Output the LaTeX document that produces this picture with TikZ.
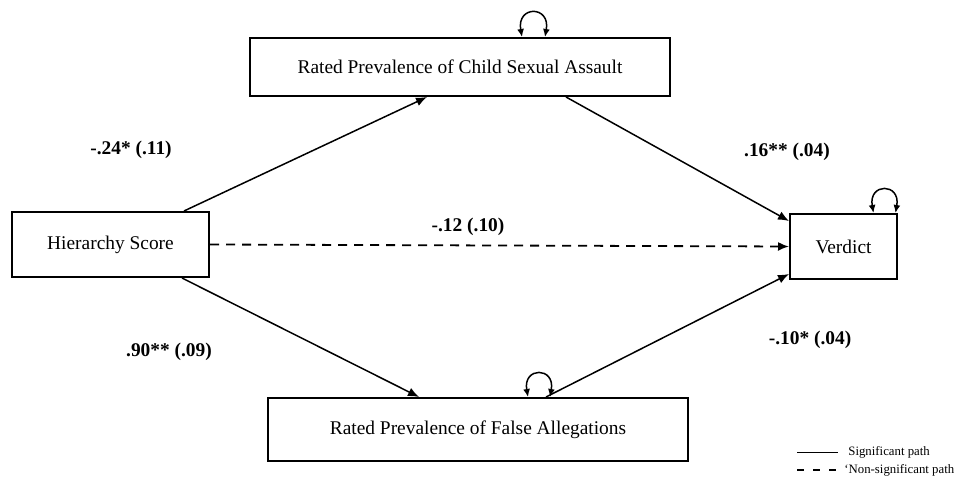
\documentclass[tikz,border=0pt]{standalone}
\usepackage{fontspec}
\setmainfont{Liberation Serif}
\usepackage{tikz}
\usetikzlibrary{positioning, arrows.meta}

\begin{document}
\begin{tikzpicture}[
    x=0.5pt, y=-0.5pt,
    box/.style={rectangle, draw, line width=1pt, minimum width=210pt, minimum height=29pt, inner sep=0pt, font=\fontsize{9.7}{11.6}\selectfont},
    path/.style={line width=0.75pt, -{Latex[length=5.5pt, width=4.5pt]}},
    nspath/.style={path, line width=0.9pt, dash pattern=on 4.5pt off 3.5pt},
    loop/.style={line width=0.75pt, {Latex[length=4pt, width=3.5pt]}-{Latex[length=4pt, width=3.5pt]}},
    coef/.style={font=\fontsize{9.7}{11.6}\selectfont\bfseries},
    legend/.style={font=\fontsize{6.4}{7.6}\selectfont, anchor=west, inner sep=0pt},
    >=LaTeX
    ]
\useasboundingbox (0,0) rectangle (958,481);
\node[box, minimum width=98.5pt, minimum height=32.5pt] (hier) at (110.5,244.5) {Hierarchy Score};
\node[box, minimum width=53.5pt, minimum height=32.5pt, right=289.5pt of hier, yshift=-1pt] (verdict) {Verdict};
\node[box] (csa) at (460,67) {Rated Prevalence of Child Sexual Assault};
\node[box, minimum height=31.5pt] (false) at (478,429.5) {Rated Prevalence of False Allegations};

% paths
\draw[path] ([xshift=-13pt]hier.north east) to ([xshift=89pt]csa.south west);
\draw[path] ([xshift=-52.5pt]csa.south east) to ([yshift=-4pt]verdict.north west);
\draw[path] ([xshift=-14pt]hier.south east) to ([xshift=76pt]false.north west);
\draw[path] ([xshift=-71.5pt]false.north east) to ([yshift=3pt]verdict.south west);
\draw[nspath] (hier.east) to (verdict.west);

% coefficients
\node[coef] (c1) at (131,150) {-.24* (.11)};
\node[coef] (c2) at (787,152) {.16** (.04)};
\node[coef] (c3) at (468,227) {-.12 (.10)};
\node[coef] (c4) at (169,352) {.90** (.09)};
\node[coef] (c5) at (810,340) {-.10* (.04)};

% error variances
\draw[loop] ([xshift=31pt]csa.north) to[out=100, in=80, looseness=3.6] ([xshift=42.5pt]csa.north);
\draw[loop] ([xshift=25pt]false.north) to[out=100, in=80, looseness=3.6] ([xshift=36pt]false.north);
\draw[loop] ([xshift=15pt]verdict.north) to[out=100, in=80, looseness=3.6] ([xshift=26pt]verdict.north);

% legend
\coordinate (l1a) at (797,452);
\coordinate (l1b) at (838,452);
\coordinate (l2a) at (797,470);
\coordinate (l2b) at (838,470);
\draw[line width=0.5pt] (l1a) -- (l1b);
\draw[line width=0.9pt, dash pattern=on 3.5pt off 4.5pt] (l2a) -- (l2b);
\node[legend] (sig) at (848,452) {Significant path};
\node[legend] (nsig) at (844,470) {`Non-significant path};
\end{tikzpicture}
\end{document}
